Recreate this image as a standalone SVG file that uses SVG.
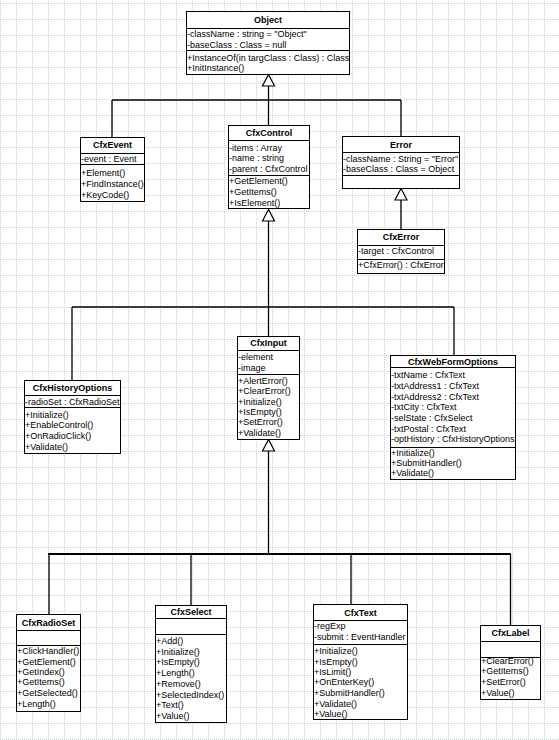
<svg xmlns="http://www.w3.org/2000/svg" width="559" height="740" viewBox="0 0 559 740">
<style>
.b{fill:#fff;stroke:#000;stroke-width:1}
.s{stroke:#000;stroke-width:1;fill:none}
.t{font-family:"Liberation Sans",Arial,sans-serif;font-size:9px;font-weight:bold;text-anchor:middle;fill:#000}
.m{font-family:"Liberation Sans",Arial,sans-serif;font-size:9px;fill:#000}
.c{stroke:#000;stroke-width:1.3;fill:none}
.tri{fill:#fff;stroke:#000;stroke-width:1.2}
</style>
<defs>
<pattern id="grid" x="0" y="3" width="16" height="16" patternUnits="userSpaceOnUse">
<line x1="0" y1="0.5" x2="16" y2="0.5" stroke="#e0b8e0" stroke-dasharray="1 5"/>
<line x1="2" y1="0.5" x2="16" y2="0.5" stroke="#b0dcdc" stroke-dasharray="1 5"/>
<line x1="4" y1="0.5" x2="16" y2="0.5" stroke="#d4d4b0" stroke-dasharray="1 5"/>
<line x1="0.5" y1="0" x2="0.5" y2="16" stroke="#b0dcdc" stroke-dasharray="1 5"/>
<line x1="0.5" y1="2" x2="0.5" y2="16" stroke="#e0b8e0" stroke-dasharray="1 5"/>
<line x1="0.5" y1="4" x2="0.5" y2="16" stroke="#d4d4b0" stroke-dasharray="1 5"/>
</pattern>
</defs>
<rect width="559" height="740" fill="#fff"/>
<rect width="559" height="740" fill="url(#grid)"/>

<g id="connectors">
<line class="c" x1="268.5" y1="86" x2="268.5" y2="126"/>
<line class="c" x1="112" y1="100" x2="401" y2="100"/>
<line class="c" x1="112" y1="100" x2="112" y2="137"/>
<line class="c" x1="401" y1="100" x2="401" y2="136"/>
<polygon class="tri" points="268.5,74.5 262.5,86 274.5,86"/>
<line class="c" x1="401" y1="200" x2="401" y2="229"/>
<polygon class="tri" points="401,188.5 395,200 407,200"/>
<line class="c" x1="268.5" y1="220" x2="268.5" y2="336"/>
<line class="c" x1="72" y1="307" x2="454" y2="307"/>
<line class="c" x1="72" y1="307" x2="72" y2="380"/>
<line class="c" x1="454" y1="307" x2="454" y2="356"/>
<polygon class="tri" points="268.5,209.5 262.5,221 274.5,221"/>
<line class="c" x1="268.5" y1="451" x2="268.5" y2="554"/>
<line x1="48" y1="554" x2="511" y2="554" stroke="#000" stroke-width="2"/>
<line class="c" x1="49" y1="554" x2="49" y2="614"/>
<line class="c" x1="191" y1="554" x2="191" y2="605"/>
<line class="c" x1="351" y1="554" x2="351" y2="604"/>
<line class="c" x1="510.5" y1="554" x2="510.5" y2="625"/>
<polygon class="tri" points="268.5,439.5 262.5,451 274.5,451"/>
</g>

<g id="Object">
<rect class="b" x="186.5" y="11.5" width="163" height="63"/>
<line class="s" x1="186.5" y1="28.5" x2="349.5" y2="28.5"/>
<line class="s" x1="186.5" y1="50.5" x2="349.5" y2="50.5"/>
<text class="t" x="268" y="22.5">Object</text>
<text class="m" x="187" y="36.5">-className : string = "Object"</text>
<text class="m" x="187" y="47.5">-baseClass : Class = null</text>
<text class="m" x="187" y="60.5">+InstanceOf(in targClass : Class) : Class</text>
<text class="m" x="187" y="71">+InitInstance()</text>
</g>

<g id="CfxEvent">
<rect class="b" x="80.5" y="137.5" width="64" height="64"/>
<line class="s" x1="80.5" y1="153.5" x2="144.5" y2="153.5"/>
<line class="s" x1="80.5" y1="164.5" x2="144.5" y2="164.5"/>
<text class="t" x="112.5" y="147.8">CfxEvent</text>
<text class="m" x="81" y="161.5">-event : Event</text>
<text class="m" x="81" y="175.5">+Element()</text>
<text class="m" x="81" y="186.5">+FindInstance()</text>
<text class="m" x="81" y="197.5">+KeyCode()</text>
</g>

<g id="CfxControl">
<rect class="b" x="228.5" y="125.5" width="81" height="83"/>
<line class="s" x1="228.5" y1="140.5" x2="309.5" y2="140.5"/>
<line class="s" x1="228.5" y1="175.5" x2="309.5" y2="175.5"/>
<text class="t" x="269" y="135.8">CfxControl</text>
<text class="m" x="229" y="150.5">-items : Array</text>
<text class="m" x="229" y="161.3">-name : string</text>
<text class="m" x="229" y="172">-parent : CfxControl</text>
<text class="m" x="229" y="184">+GetElement()</text>
<text class="m" x="229" y="195">+GetItems()</text>
<text class="m" x="229" y="206">+IsElement()</text>
</g>

<g id="Error">
<rect class="b" x="342.5" y="136.5" width="117" height="52"/>
<line class="s" x1="342.5" y1="152.5" x2="459.5" y2="152.5"/>
<line class="s" x1="342.5" y1="175.5" x2="459.5" y2="175.5"/>
<text class="t" x="401" y="147.5">Error</text>
<text class="m" x="343" y="161.6">-className : String = "Error"</text>
<text class="m" x="343" y="172">-baseClass : Class = Object</text>
</g>

<g id="CfxError">
<rect class="b" x="357.5" y="229.5" width="87" height="44"/>
<line class="s" x1="357.5" y1="245.5" x2="444.5" y2="245.5"/>
<line class="s" x1="357.5" y1="259.5" x2="444.5" y2="259.5"/>
<text class="t" x="401" y="240.2">CfxError</text>
<text class="m" x="358" y="254.3">-target : CfxControl</text>
<text class="m" x="358" y="268.3">+CfxError() : CfxError</text>
</g>

<g id="CfxHistoryOptions">
<rect class="b" x="24.5" y="380.5" width="96" height="73"/>
<line class="s" x1="24.5" y1="395.5" x2="120.5" y2="395.5"/>
<line class="s" x1="24.5" y1="407.5" x2="120.5" y2="407.5"/>
<text class="t" x="72.5" y="390.8">CfxHistoryOptions</text>
<text class="m" x="25" y="404.6">-radioSet : CfxRadioSet</text>
<text class="m" x="25" y="417.5">+Initialize()</text>
<text class="m" x="25" y="428.2">+EnableControl()</text>
<text class="m" x="25" y="438.9">+OnRadioClick()</text>
<text class="m" x="25" y="449.6">+Validate()</text>
</g>

<g id="CfxInput">
<rect class="b" x="237.5" y="336.5" width="62" height="103"/>
<line class="s" x1="237.5" y1="350.5" x2="299.5" y2="350.5"/>
<line class="s" x1="237.5" y1="374.5" x2="299.5" y2="374.5"/>
<text class="t" x="268.5" y="346.2">CfxInput</text>
<text class="m" x="238" y="359.5">-element</text>
<text class="m" x="238" y="370.8">-image</text>
<text class="m" x="238" y="384">+AlertError()</text>
<text class="m" x="238" y="394.4">+ClearError()</text>
<text class="m" x="238" y="404.6">+Initialize()</text>
<text class="m" x="238" y="414.8">+IsEmpty()</text>
<text class="m" x="238" y="425.2">+SetError()</text>
<text class="m" x="238" y="436">+Validate()</text>
</g>

<g id="CfxWebFormOptions">
<rect class="b" x="390.5" y="355.5" width="125" height="124"/>
<line class="s" x1="390.5" y1="367.5" x2="515.5" y2="367.5"/>
<line class="s" x1="390.5" y1="447.5" x2="515.5" y2="447.5"/>
<text class="t" x="453" y="364.5">CfxWebFormOptions</text>
<text class="m" x="391" y="378.3">-txtName : CfxText</text>
<text class="m" x="391" y="389">-txtAddress1 : CfxText</text>
<text class="m" x="391" y="399.6">-txtAddress2 : CfxText</text>
<text class="m" x="391" y="410.3">-txtCity : CfxText</text>
<text class="m" x="391" y="420.9">-selState : CfxSelect</text>
<text class="m" x="391" y="431.6">-txtPostal : CfxText</text>
<text class="m" x="391" y="442.4">-optHistory : CfxHistoryOptions</text>
<text class="m" x="391" y="455.6">+Initialize()</text>
<text class="m" x="391" y="465.8">+SubmitHandler()</text>
<text class="m" x="391" y="476">+Validate()</text>
</g>

<g id="CfxRadioSet">
<rect class="b" x="16.5" y="614.5" width="64" height="97"/>
<line class="s" x1="16.5" y1="630.5" x2="80.5" y2="630.5"/>
<line class="s" x1="16.5" y1="645.5" x2="80.5" y2="645.5"/>
<text class="t" x="48.5" y="625.8">CfxRadioSet</text>
<text class="m" x="17" y="654">+ClickHandler()</text>
<text class="m" x="17" y="664.6">+GetElement()</text>
<text class="m" x="17" y="675">+GetIndex()</text>
<text class="m" x="17" y="685.3">+GetItems()</text>
<text class="m" x="17" y="696">+GetSelected()</text>
<text class="m" x="17" y="707">+Length()</text>
</g>

<g id="CfxSelect">
<rect class="b" x="155.5" y="605.5" width="71" height="117"/>
<line class="s" x1="155.5" y1="618.5" x2="226.5" y2="618.5"/>
<line class="s" x1="155.5" y1="634.5" x2="226.5" y2="634.5"/>
<text class="t" x="191" y="615.3">CfxSelect</text>
<text class="m" x="156" y="644">+Add()</text>
<text class="m" x="156" y="655">+Initialize()</text>
<text class="m" x="156" y="665.3">+IsEmpty()</text>
<text class="m" x="156" y="675.6">+Length()</text>
<text class="m" x="156" y="686.6">+Remove()</text>
<text class="m" x="156" y="697.6">+SelectedIndex()</text>
<text class="m" x="156" y="708.3">+Text()</text>
<text class="m" x="156" y="718.6">+Value()</text>
</g>

<g id="CfxText">
<rect class="b" x="313.5" y="604.5" width="94" height="115"/>
<line class="s" x1="313.5" y1="620.5" x2="407.5" y2="620.5"/>
<line class="s" x1="313.5" y1="644.5" x2="407.5" y2="644.5"/>
<text class="t" x="360.5" y="615.5">CfxText</text>
<text class="m" x="314" y="629.3">-regExp</text>
<text class="m" x="314" y="640">-submit : EventHandler</text>
<text class="m" x="314" y="654">+Initialize()</text>
<text class="m" x="314" y="664.6">+IsEmpty()</text>
<text class="m" x="314" y="674.8">+IsLimit()</text>
<text class="m" x="314" y="685.2">+OnEnterKey()</text>
<text class="m" x="314" y="695.8">+SubmitHandler()</text>
<text class="m" x="314" y="706.6">+Validate()</text>
<text class="m" x="314" y="717">+Value()</text>
</g>

<g id="CfxLabel">
<rect class="b" x="480.5" y="625.5" width="60" height="74"/>
<line class="s" x1="480.5" y1="641.5" x2="540.5" y2="641.5"/>
<line class="s" x1="480.5" y1="657.5" x2="540.5" y2="657.5"/>
<text class="t" x="510.5" y="636">CfxLabel</text>
<text class="m" x="481" y="664">+ClearError()</text>
<text class="m" x="481" y="674.3">+GetItems()</text>
<text class="m" x="481" y="685">+SetError()</text>
<text class="m" x="481" y="695.6">+Value()</text>
</g>
</svg>
